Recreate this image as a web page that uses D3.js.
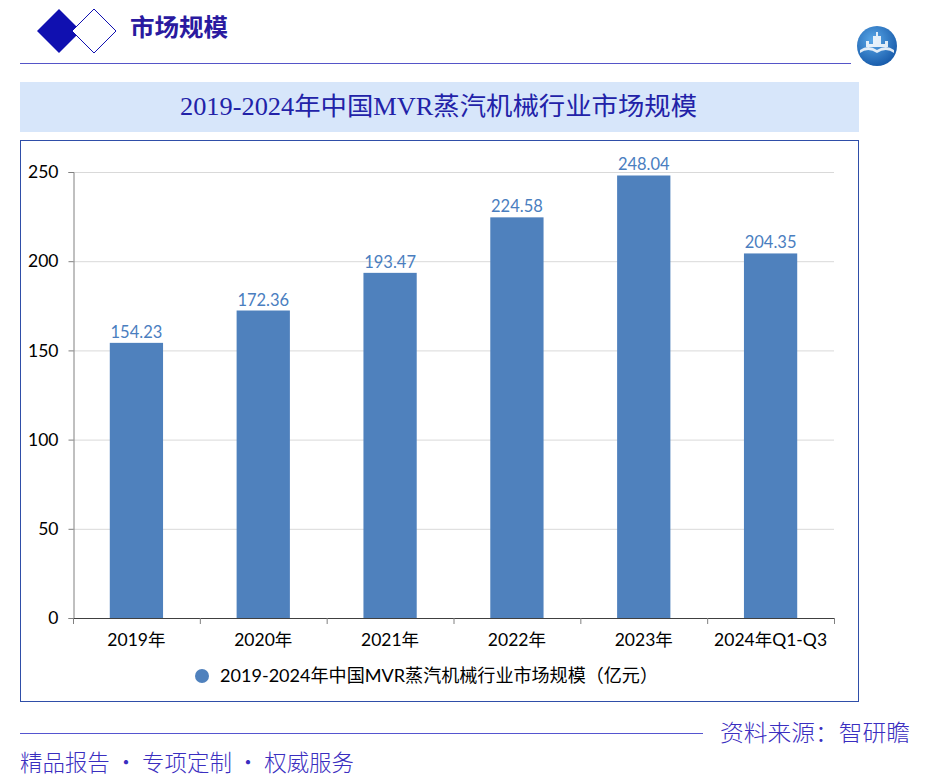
<!DOCTYPE html>
<html><head><meta charset="utf-8">
<script src="https://cdn.jsdelivr.net/npm/d3@7/dist/d3.min.js"></script>
<style>body{margin:0;background:#fff;}svg{display:block;}</style>
</head><body><div id="c"></div>
<script>
const categories = ["2019年","2020年","2021年","2022年","2023年","2024年Q1-Q3"];
const values = [154.23,172.36,193.47,224.58,248.04,204.35];
const yTicks = [0,50,100,150,200,250];
const seriesName = "2019-2024年中国MVR蒸汽机械行业市场规模（亿元）";
const title = "2019-2024年中国MVR蒸汽机械行业市场规模";

const W=934,H=782;
const svg=d3.select("#c").append("svg").attr("width",W).attr("height",H);
const cjk='"Noto Sans CJK SC"';
const latin='Lato, "Noto Sans CJK SC", sans-serif';
const serif='"Liberation Serif", "Noto Sans CJK SC", serif';

// header diamonds
svg.append("path").attr("d","M37,31 L59,9 L81,31 L59,53 Z").attr("fill","#1010b0");
svg.append("path").attr("d","M72,31 L94,9 L116,31 L94,53 Z").attr("fill","#fff").attr("stroke","#1010b0").attr("stroke-width",1);
svg.append("text").attr("x",130).attr("y",36).text("市场规模")
  .attr("font-family",cjk).attr("font-weight","bold").attr("font-size",24).attr("fill","#2a1aa0")
  .attr("textLength",98).attr("lengthAdjust","spacingAndGlyphs");
svg.append("line").attr("x1",20).attr("x2",851).attr("y1",63.5).attr("y2",63.5).attr("stroke","#5555c8").attr("stroke-width",1.2);
// logo
const defs=svg.append("defs");
const g=defs.append("radialGradient").attr("id","lg").attr("cx","40%").attr("cy","35%").attr("r","70%");
g.append("stop").attr("offset","0%").attr("stop-color","#5aa8e8");
g.append("stop").attr("offset","100%").attr("stop-color","#1558a8");
svg.append("circle").attr("cx",877).attr("cy",46).attr("r",20).attr("fill","url(#lg)");
svg.append("path").attr("d","M860,50 Q868,44 877,50 Q886,44 894,50 L894,53 Q886,47 877,53 Q868,47 860,53 Z").attr("fill","#ffffff").attr("opacity",0.85);
svg.append("path").attr("d","M866,47 L866,41 L869,41 L869,44 L873,44 L873,36 L876,36 L876,32 L878,32 L878,36 L881,36 L881,44 L885,44 L885,41 L888,41 L888,47 Z").attr("fill","#ffffff").attr("opacity",0.85);

// title box
svg.append("rect").attr("x",20).attr("y",82).attr("width",839).attr("height",50).attr("fill","#d7e6fa");
svg.append("text").attr("x",180).attr("y",115).text(title)
  .attr("font-family",serif).attr("font-size",25).attr("fill","#2222a8")
  .attr("textLength",517).attr("lengthAdjust","spacingAndGlyphs");

// chart frame
svg.append("rect").attr("x",20.5).attr("y",140.5).attr("width",838).attr("height",561).attr("fill","#fff").attr("stroke","#2f4ea8").attr("stroke-width",1);

const x=d3.scaleBand().domain(categories).range([73,834]).paddingInner(0.58).paddingOuter(0.29);
const y=d3.scaleLinear().domain([0,250]).range([618,172]);

// gridlines
svg.append("g").selectAll("line").data(yTicks.filter(d=>d>0)).join("line")
  .attr("x1",73).attr("x2",834).attr("y1",d=>y(d)+0.5).attr("y2",d=>y(d)+0.5)
  .attr("stroke","#d9d9d9").attr("stroke-width",1);

// bars
svg.append("g").selectAll("rect").data(values).join("rect")
  .attr("x",(d,i)=>x(categories[i])).attr("width",x.bandwidth())
  .attr("y",d=>y(d)).attr("height",d=>y(0)-y(d)).attr("fill","#4f81bd");
svg.append("g").selectAll("text").data(values).join("text")
  .attr("x",(d,i)=>x(categories[i])+x.bandwidth()/2).attr("y",d=>y(d)-5)
  .attr("text-anchor","middle").text(d=>d.toFixed(2))
  .attr("font-family",latin).attr("font-size",16.5).attr("fill","#4a7ebf");

// y axis
const ya=svg.append("g").attr("transform","translate(73.5,0)")
  .call(d3.axisLeft(y).tickValues(yTicks).tickSize(5).tickPadding(10));
ya.select(".domain").attr("stroke","#808080");
ya.selectAll(".tick line").attr("stroke","#808080");
ya.selectAll("text").attr("font-family",latin).attr("font-size",17.5).attr("fill","#000");

// x axis
const xPos=d3.scalePoint().domain(d3.range(7)).range([73,834]);
const xa=svg.append("g");
xa.append("line").attr("x1",73).attr("x2",834).attr("y1",618.5).attr("y2",618.5).attr("stroke","#404040");
xa.selectAll("line.t").data(d3.range(7)).join("line").attr("class","t")
  .attr("x1",d=>xPos(d)+0.5).attr("x2",d=>xPos(d)+0.5).attr("y1",618).attr("y2",624).attr("stroke","#808080");
xa.selectAll("text").data(categories).join("text")
  .attr("x",d=>x(d)+x.bandwidth()/2).attr("y",646).attr("text-anchor","middle").text(d=>d)
  .attr("font-family",latin).attr("font-size",17.5).attr("fill","#000");

// legend
svg.append("circle").attr("cx",202).attr("cy",676).attr("r",7).attr("fill","#4f81bd");
svg.append("text").attr("x",220).attr("y",682).text(seriesName)
  .attr("font-family",latin).attr("font-size",18).attr("fill","#000")
  .attr("textLength",438).attr("lengthAdjust","spacingAndGlyphs");

// footer
svg.append("line").attr("x1",20).attr("x2",703).attr("y1",733.5).attr("y2",733.5).attr("stroke","#5555d0").attr("stroke-width",1.2);
svg.append("text").attr("x",720).attr("y",741).text("资料来源：智研瞻")
  .attr("font-family",cjk).attr("font-size",23).attr("font-weight",300).attr("fill","#3a2ec0")
  .attr("textLength",190).attr("lengthAdjust","spacingAndGlyphs");
svg.append("text").attr("x",20).attr("y",771).text("精品报告 • 专项定制 • 权威服务")
  .attr("font-family",cjk).attr("font-size",23).attr("font-weight",300).attr("fill","#3a2ec0")
  .attr("textLength",334).attr("lengthAdjust","spacingAndGlyphs");
</script></body></html>
